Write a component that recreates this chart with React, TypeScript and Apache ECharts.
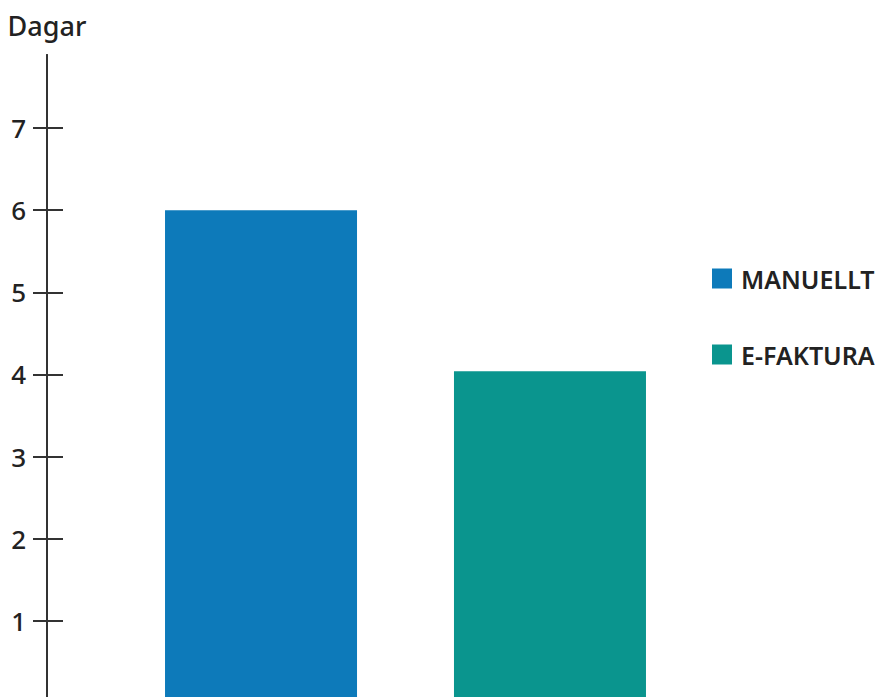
import React, { useEffect, useRef } from "react";
import * as echarts from "echarts";

const seriesNames = ["MANUELLT", "E-FAKTURA"];
const seriesValues = [6.0, 4.04];
const seriesColors = ["#0d7aba", "#0a958e"];
const categories = ["Dagar"];
const tickValues = [1, 2, 3, 4, 5, 6, 7];
const axisName = "Dagar";

const FONT = "'Noto Sans', sans-serif";

export default function App() {
  const ref = useRef<HTMLDivElement>(null);
  useEffect(() => {
    if (!ref.current) return;
    const chart = echarts.init(ref.current, undefined, { renderer: "svg" });
    const axisLine = { show: true, lineStyle: { color: "#333", width: 2 } };
    chart.setOption({
      animation: false,
      backgroundColor: "#fff",
      grid: { left: 47, top: 55, width: 717, height: 648, outerBoundsMode: "none", containLabel: false },
      legend: {
        orient: "vertical",
        left: 712,
        top: 266,
        itemWidth: 20,
        itemHeight: 20,
        itemGap: 51,
        icon: "rect",
        data: seriesNames,
        textStyle: { fontFamily: FONT, fontSize: 25, fontWeight: 600, color: "#222", padding: [0, 0, 0, 4] },
        padding: 0,
      },
      xAxis: {
        type: "category",
        data: categories,
        show: false,
      },
      yAxis: [
        {
          type: "value",
          min: 0,
          max: 7.89,
          position: "left",
          name: axisName,
          nameLocation: "end",
          nameGap: 30,
          nameTextStyle: { fontFamily: FONT, fontSize: 27, fontWeight: 500, color: "#222", verticalAlign: "middle", align: "center" },
          axisLine,
          axisTick: { show: true, inside: false, length: 14, lineStyle: { color: "#333", width: 2 }, customValues: tickValues },
          axisLabel: { show: true, margin: 21, fontFamily: FONT, fontSize: 26, fontWeight: 500, color: "#222", customValues: tickValues },
          splitLine: { show: false },
        },
        {
          type: "value",
          min: 0,
          max: 7.89,
          position: "left",
          offset: 0,
          axisLine,
          axisTick: { show: true, inside: true, length: 16, lineStyle: { color: "#333", width: 2 }, customValues: tickValues },
          axisLabel: { show: false },
          splitLine: { show: false },
        },
      ],
      series: seriesNames.map((name, i) => ({
        name,
        type: "bar",
        data: [seriesValues[i]],
        barWidth: 192,
        barGap: "50.5%",
        itemStyle: { color: seriesColors[i] },
      })),
    });
    return () => chart.dispose();
  }, []);
  return (
    <div style={{ position: "fixed", left: 0, top: 0, width: 883, height: 697, overflow: "hidden", background: "#fff" }}>
      <div ref={ref} style={{ width: 883, height: 697 }} />
    </div>
  );
}
